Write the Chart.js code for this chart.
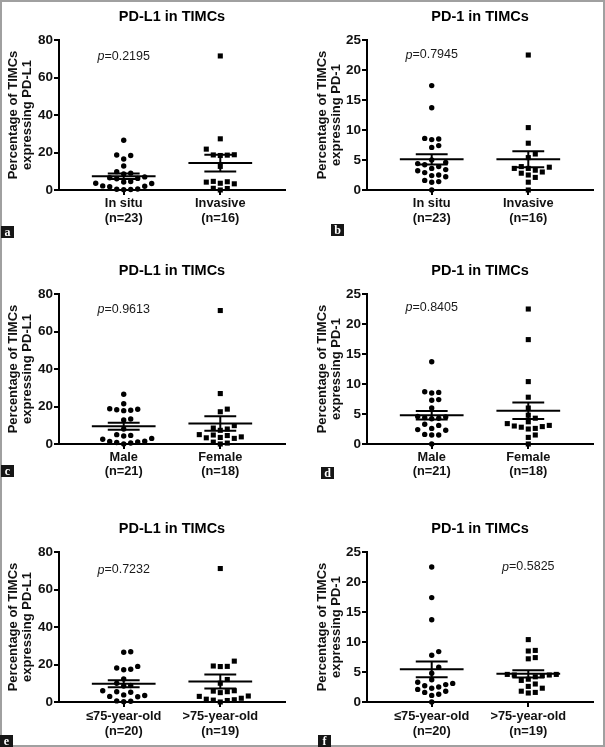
<!DOCTYPE html>
<html>
<head>
<meta charset="utf-8">
<script src="https://cdn.jsdelivr.net/npm/chart.js@4.4.1/dist/chart.umd.min.js"></script>
<style>
    html, body { margin: 0; padding: 0; background: #fff; }
    #fig { position: relative; width: 605px; height: 747px; overflow: hidden; background: #fff; }
    #fig canvas { position: absolute; }
    .frame { position: absolute; left: 0; top: 0; width: 605px; height: 747px; box-sizing: border-box; border: 2px solid #a0a0a0; pointer-events: none; }
    .tag { position: absolute; width: 13px; height: 12px; background: #161616; color: #fff;
           font: bold 12px "Liberation Serif", "DejaVu Serif", serif; line-height: 12px; text-align: center; }
</style>
</head>
<body>
<div id="fig"><div class="frame"></div></div>
<script>
const FONT = '"Liberation Sans", Arial, sans-serif';

// categories
const locationGroups = ['In situ', 'Invasive'];
const locationCounts = ['(n=23)', '(n=16)'];
const genderGroups = ['Male', 'Female'];
const genderCounts = ['(n=21)', '(n=18)'];
const ageGroups = ['≤75-year-old', '>75-year-old'];
const ageCounts = ['(n=20)', '(n=19)'];

// tick labels
const pdl1Ticks = [0, 20, 40, 60, 80];
const pd1Ticks = [0, 5, 10, 15, 20, 25];

// values (% of TIMCs)
const pdl1InSitu = [26.5, 18.7, 18.4, 16.5, 12.8, 9.8, 9.0, 8.5, 7.0, 6.5, 6.2, 6.0, 4.5, 4.3, 3.6, 3.5, 2.2, 2.0, 1.8, 0.5, 0.4, 0.3, 0.2];
const pdl1Invasive = [71.5, 27.3, 21.8, 18.8, 18.7, 18.6, 18.4, 12.6, 4.6, 4.4, 4.2, 3.6, 3.3, 0.9, 0.8, 0];
const pd1InSitu = [17.4, 13.7, 8.6, 8.5, 8.4, 7.4, 7.1, 5.0, 4.6, 4.4, 4.2, 3.9, 3.6, 3.4, 3.2, 2.9, 2.5, 2.4, 2.2, 1.6, 1.4, 1.3, 0];
const pd1Invasive = [22.5, 10.4, 7.8, 6.0, 5.4, 3.8, 3.6, 3.9, 3.6, 3.3, 3.0, 2.8, 2.5, 2.1, 1.3, 0];
const pdl1Male = [26.5, 21.5, 18.8, 18.5, 18.3, 18.0, 17.8, 13.3, 12.8, 8.0, 5.0, 4.6, 4.3, 3.0, 2.5, 1.5, 1.3, 1.1, 0.8, 0.5, 0];
const pdl1Female = [71.2, 26.9, 18.6, 17.2, 9.8, 8.5, 8.0, 7.3, 5.0, 4.8, 4.5, 3.8, 3.5, 3.3, 3.0, 1.0, 0.5, 0];
const pd1Male = [13.7, 8.7, 8.6, 8.5, 7.4, 7.3, 6.0, 4.6, 4.5, 4.4, 4.3, 4.2, 3.3, 3.1, 2.6, 2.4, 2.3, 1.6, 1.5, 1.5, 0];
const pd1Female = [22.5, 17.4, 10.4, 7.8, 6.0, 4.8, 4.3, 3.7, 3.4, 3.1, 3.0, 2.9, 2.8, 2.6, 2.5, 1.5, 1.1, 0];
const pdl1Young = [26.8, 26.5, 19.0, 18.1, 17.5, 17.2, 12.3, 10.0, 8.8, 8.5, 6.0, 5.5, 5.2, 3.8, 3.5, 3.0, 2.8, 0.6, 0.4, 0.2];
const pdl1Old = [71.2, 21.8, 19.2, 19.0, 18.9, 12.0, 10.0, 6.0, 5.8, 5.5, 5.0, 3.2, 3.0, 2.0, 1.5, 1.2, 1.0, 0.8, 0];
const pd1Young = [22.5, 17.4, 13.7, 8.4, 7.8, 5.8, 4.8, 3.7, 3.3, 3.1, 2.9, 2.7, 2.5, 2.3, 2.1, 1.8, 1.6, 1.3, 1.1, 0];
const pd1Old = [10.4, 8.6, 8.5, 7.4, 7.2, 4.6, 4.6, 4.5, 4.5, 4.4, 4.2, 3.8, 3.6, 3.0, 2.6, 2.3, 1.8, 1.6, 1.5];

const pValues = ['0.2195', '0.7945', '0.9613', '0.8405', '0.7232', '0.5825'];

// layout
const PLOT_W = 226, PLOT_H = 150, X_MIN = 0.33, X_MAX = 2.67;
const ROWS = [
    { top: 0, height: 245, titlePad: { top: 8.2, bottom: 15 }, axisH: 55, labelPad: 1 },
    { top: 245, height: 245, titlePad: { top: 17.2, bottom: 15 }, axisH: 46, labelPad: 0.5 },
    { top: 490, height: 257, titlePad: { top: 30.2, bottom: 15 }, axisH: 45, labelPad: 2.2 }
];
const COLS = [
    { left: 0, width: 300, padL: 0, padR: 15, yTitlePad: 6.3 },
    { left: 300, width: 305, padL: 8, padR: 12, yTitlePad: 7.7 }
];
const TAGS = [
    { left: 1, top: 226 }, { left: 331, top: 224 },
    { left: 1, top: 465 }, { left: 321, top: 467 },
    { left: 0, top: 735 }, { left: 318, top: 735 }
];

const panels = [
    { tag: 'a', row: 0, col: 0, marker: 'PD-L1', ticks: pdl1Ticks, groups: locationGroups, counts: locationCounts, series: [pdl1InSitu, pdl1Invasive], p: pValues[0], pAt: [1, 71] },
    { tag: 'b', row: 0, col: 1, marker: 'PD-1', ticks: pd1Ticks, groups: locationGroups, counts: locationCounts, series: [pd1InSitu, pd1Invasive], p: pValues[1], pAt: [1, 22.5] },
    { tag: 'c', row: 1, col: 0, marker: 'PD-L1', ticks: pdl1Ticks, groups: genderGroups, counts: genderCounts, series: [pdl1Male, pdl1Female], p: pValues[2], pAt: [1, 71.5] },
    { tag: 'd', row: 1, col: 1, marker: 'PD-1', ticks: pd1Ticks, groups: genderGroups, counts: genderCounts, series: [pd1Male, pd1Female], p: pValues[3], pAt: [1, 22.7] },
    { tag: 'e', row: 2, col: 0, marker: 'PD-L1', ticks: pdl1Ticks, groups: ageGroups, counts: ageCounts, series: [pdl1Young, pdl1Old], p: pValues[4], pAt: [1, 70.4] },
    { tag: 'f', row: 2, col: 1, marker: 'PD-1', ticks: pd1Ticks, groups: ageGroups, counts: ageCounts, series: [pd1Young, pd1Old], p: pValues[5], pAt: [2, 22.5] }
];

const mean = vals => vals.reduce((a, b) => a + b, 0) / vals.length;
function sem(vals) {
    const m = mean(vals);
    const v = vals.reduce((a, b) => a + (b - m) * (b - m), 0) / (vals.length - 1);
    return Math.sqrt(v / vals.length);
}

// column-scatter layout: spread points sideways when they would overlap
function swarm(values, center, yMax) {
    const pxX = PLOT_W / (X_MAX - X_MIN);
    const pxY = PLOT_H / yMax;
    const step = 7, gapX = 6.5, gapY = 6.5;
    const placed = [];
    return [...values].sort((a, b) => a - b).map(v => {
        const py = v * pxY;
        let k = 0;
        for (let i = 0; i < 40; i++) {
            k = i === 0 ? 0 : (i % 2 ? (i + 1) / 2 : -i / 2);
            const px = k * step;
            if (!placed.some(q => Math.abs(q.py - py) < gapY && Math.abs(q.px - px) < gapX)) break;
        }
        placed.push({ px: k * step, py });
        return { x: center + k * step / pxX, y: v };
    });
}

function makeOverlay(panel) {
    return {
        id: 'overlay',
        afterDatasetsDraw(chart) {
            const { ctx, scales: { x, y } } = chart;
            ctx.save();
            ctx.strokeStyle = '#000';
            ctx.lineWidth = 2;
            const line = (x0, y0, x1, y1) => {
                ctx.beginPath();
                ctx.moveTo(x.getPixelForValue(x0), y.getPixelForValue(y0));
                ctx.lineTo(x.getPixelForValue(x1), y.getPixelForValue(y1));
                ctx.stroke();
            };
            panel.series.forEach((vals, i) => {
                const c = i + 1, m = mean(vals), s = sem(vals);
                line(c - 0.33, m, c + 0.33, m);
                line(c - 0.165, m + s, c + 0.165, m + s);
                line(c - 0.165, m - s, c + 0.165, m - s);
                line(c, m - s, c, m + s);
            });

            const cx = x.getPixelForValue(panel.pAt[0]);
            const cy = y.getPixelForValue(panel.pAt[1]);
            ctx.fillStyle = '#1a1a1a';
            ctx.textBaseline = 'middle';
            ctx.textAlign = 'left';
            ctx.font = `italic 12.5px ${FONT}`;
            const w1 = ctx.measureText('p').width;
            ctx.font = `12.5px ${FONT}`;
            const rest = '=' + panel.p;
            const w2 = ctx.measureText(rest).width;
            const sx = cx - (w1 + w2) / 2;
            ctx.font = `italic 12.5px ${FONT}`;
            ctx.fillText('p', sx, cy);
            ctx.font = `12.5px ${FONT}`;
            ctx.fillText(rest, sx + w1, cy);
            ctx.restore();
        }
    };
}

const fig = document.getElementById('fig');

panels.forEach((panel, idx) => {
    const row = ROWS[panel.row], col = COLS[panel.col];
    const yMax = panel.ticks[panel.ticks.length - 1];

    const canvas = document.createElement('canvas');
    canvas.width = col.width;
    canvas.height = row.height;
    canvas.style.left = col.left + 'px';
    canvas.style.top = row.top + 'px';
    fig.insertBefore(canvas, fig.firstChild);

    new Chart(canvas, {
        type: 'scatter',
        data: {
            datasets: panel.series.map((vals, i) => ({
                data: swarm(vals, i + 1, yMax),
                pointStyle: i === 0 ? 'circle' : 'rect',
                pointRadius: i === 0 ? 2.7 : 3.6,
                pointHoverRadius: i === 0 ? 2.7 : 3.6,
                backgroundColor: '#000',
                borderColor: '#000',
                borderWidth: 0,
                showLine: false,
                clip: false
            }))
        },
        options: {
            responsive: false,
            animation: false,
            devicePixelRatio: 1,
            events: [],
            layout: { padding: { left: col.padL, right: col.padR, top: 0, bottom: 0 } },
            plugins: {
                legend: { display: false },
                tooltip: { enabled: false },
                title: {
                    display: true,
                    text: panel.marker + ' in TIMCs',
                    fullSize: false,
                    color: '#000',
                    font: { family: FONT, size: 14.5, weight: 'bold', lineHeight: 1.16 },
                    padding: row.titlePad
                }
            },
            scales: {
                x: {
                    type: 'linear',
                    min: X_MIN,
                    max: X_MAX,
                    afterBuildTicks: s => { s.ticks = [{ value: 1 }, { value: 2 }]; },
                    afterFit: s => { s.height = row.axisH; },
                    ticks: {
                        autoSkip: false,
                        maxRotation: 0,
                        minRotation: 0,
                        padding: row.labelPad,
                        color: '#111',
                        font: { family: FONT, size: 12.8, weight: 'bold', lineHeight: 1.17 },
                        callback: v => [panel.groups[Math.round(v) - 1], panel.counts[Math.round(v) - 1]]
                    },
                    grid: { drawOnChartArea: false, drawTicks: true, tickLength: 5, color: '#000', lineWidth: 2 },
                    border: { display: true, color: '#000', width: 2 }
                },
                y: {
                    min: 0,
                    max: yMax,
                    afterBuildTicks: s => { s.ticks = panel.ticks.map(v => ({ value: v })); },
                    afterFit: s => { s.width = 59; },
                    ticks: {
                        padding: 1,
                        color: '#111',
                        font: { family: FONT, size: 13.5, weight: 'bold' },
                        callback: v => String(v)
                    },
                    grid: { drawOnChartArea: false, drawTicks: true, tickLength: 5, color: '#000', lineWidth: 2 },
                    border: { display: true, color: '#000', width: 2 },
                    title: {
                        display: true,
                        text: ['Percentage of TIMCs', 'expressing ' + panel.marker],
                        color: '#111',
                        font: { family: FONT, size: 13, weight: 'bold', lineHeight: 1.08 },
                        padding: { top: col.yTitlePad, bottom: 0 }
                    }
                }
            }
        },
        plugins: [makeOverlay(panel)]
    });

    const tag = document.createElement('div');
    tag.className = 'tag';
    tag.textContent = panel.tag;
    tag.style.left = TAGS[idx].left + 'px';
    tag.style.top = TAGS[idx].top + 'px';
    fig.appendChild(tag);
});
</script>
</body>
</html>
